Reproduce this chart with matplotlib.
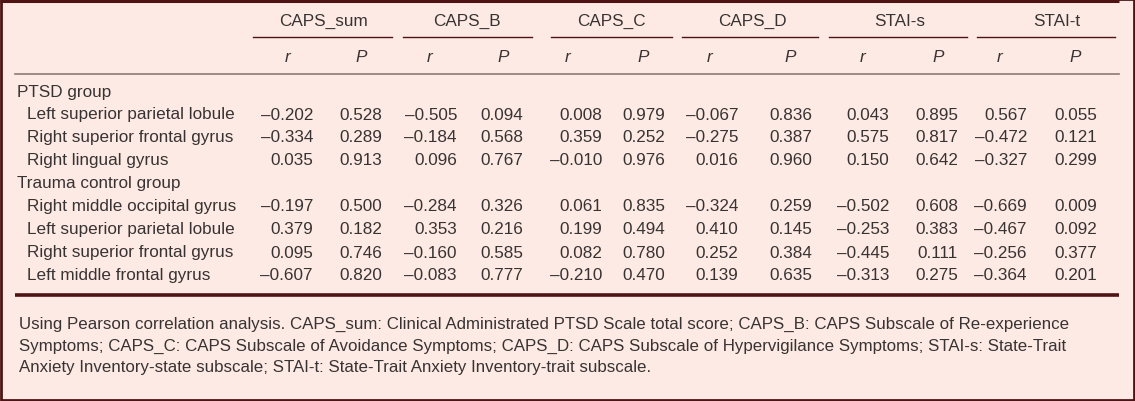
import matplotlib.pyplot as plt
from matplotlib.patches import Rectangle

plt.rcParams["font.family"] = ["Liberation Sans", "DejaVu Sans"]

# Table content
measures = ["CAPS_sum", "CAPS_B", "CAPS_C", "CAPS_D", "STAI-s", "STAI-t"]
groups = ["PTSD group", "Trauma control group"]
ptsd_regions = ["Left superior parietal lobule", "Right superior frontal gyrus",
                "Right lingual gyrus"]
trauma_regions = ["Right middle occipital gyrus", "Left superior parietal lobule",
                  "Right superior frontal gyrus", "Left middle frontal gyrus"]

ptsd_r = [[-0.202, -0.505, 0.008, -0.067, 0.043, 0.567],
          [-0.334, -0.184, 0.359, -0.275, 0.575, -0.472],
          [0.035, 0.096, -0.010, 0.016, 0.150, -0.327]]
ptsd_p = [[0.528, 0.094, 0.979, 0.836, 0.895, 0.055],
          [0.289, 0.568, 0.252, 0.387, 0.817, 0.121],
          [0.913, 0.767, 0.976, 0.960, 0.642, 0.299]]
trauma_r = [[-0.197, -0.284, 0.061, -0.324, -0.502, -0.669],
            [0.379, 0.353, 0.199, 0.410, -0.253, -0.467],
            [0.095, -0.160, 0.082, 0.252, -0.445, -0.256],
            [-0.607, -0.083, -0.210, 0.139, -0.313, -0.364]]
trauma_p = [[0.500, 0.326, 0.835, 0.259, 0.608, 0.009],
            [0.182, 0.216, 0.494, 0.145, 0.383, 0.092],
            [0.746, 0.585, 0.780, 0.384, 0.111, 0.377],
            [0.820, 0.777, 0.470, 0.635, 0.275, 0.201]]

footnote = [
    "Using Pearson correlation analysis. CAPS_sum: Clinical Administrated PTSD Scale total score; CAPS_B: CAPS Subscale of Re-experience",
    "Symptoms; CAPS_C: CAPS Subscale of Avoidance Symptoms; CAPS_D: CAPS Subscale of Hypervigilance Symptoms; STAI-s: State-Trait",
    "Anxiety Inventory-state subscale; STAI-t: State-Trait Anxiety Inventory-trait subscale.",
]

# Layout (pixel space)
W, H = 1135, 402
BG = "#fdeae4"
TXT = "#383333"
DARK = "#4e1414"
FS = 12.3
FS_NOTE = 12.15

label_x = [323, 467, 611, 752, 900, 1057]
span = [(253, 392), (403, 532), (551, 672), (682, 818), (829, 967), (977, 1115)]
r_head = [288, 430, 568, 710, 863, 1000]
p_head = [361, 503, 643, 790, 938, 1075]
r_right = [313, 457, 602, 738, 889, 1027]
p_right = [382, 523, 665, 812, 958, 1097]


def fmt(v):
    s = f"{abs(v):.3f}"
    return "\u2013" + s if v < 0 else s


fig = plt.figure(figsize=(W / 100, H / 100), dpi=100, facecolor=BG)
ax = fig.add_axes([0, 0, 1, 1])
ax.set_xlim(0, W)
ax.set_ylim(H, 0)
ax.set_axis_off()
ax.set_facecolor(BG)

# Rules
ax.plot([0, 1119], [2, 2], color=DARK, lw=2.2, solid_capstyle="butt")
for x0, x1 in span:
    ax.plot([x0, x1], [38, 38], color=DARK, lw=1.0)
ax.plot([15, 1119], [75, 75], color="#8c7a76", lw=1.2)
ax.plot([15, 1119], [296, 296], color=DARK, lw=2.6, solid_capstyle="butt")

# Header
for i, m in enumerate(measures):
    ax.text(label_x[i], 21, m, ha="center", va="center", fontsize=FS, color=TXT)
    ax.text(r_head[i], 58, "r", ha="center", va="center", fontsize=FS,
            color=TXT, style="italic")
    ax.text(p_head[i], 58, "P", ha="center", va="center", fontsize=FS,
            color=TXT, style="italic")

# Body
y = 92
step = 23
for grp, regions, rvals, pvals in [(groups[0], ptsd_regions, ptsd_r, ptsd_p),
                                   (groups[1], trauma_regions, trauma_r, trauma_p)]:
    ax.text(17, y, grp, ha="left", va="center", fontsize=FS, color=TXT)
    y += step
    for name, rr, pp in zip(regions, rvals, pvals):
        ax.text(27, y, name, ha="left", va="center", fontsize=FS, color=TXT)
        for j in range(len(measures)):
            ax.text(r_right[j], y, fmt(rr[j]), ha="right", va="center",
                    fontsize=FS, color=TXT)
            ax.text(p_right[j], y, fmt(pp[j]), ha="right", va="center",
                    fontsize=FS, color=TXT)
        y += step

# Footnote
for k, line in enumerate(footnote):
    ax.text(19, 324 + k * 22, line, ha="left", va="center", fontsize=FS_NOTE,
            color=TXT)

# Outer frame
ax.add_patch(Rectangle((1, 0), W - 2, H - 1.5, fill=False, ec=DARK, lw=2))

fig.savefig("out.png", dpi=100, facecolor=BG)
